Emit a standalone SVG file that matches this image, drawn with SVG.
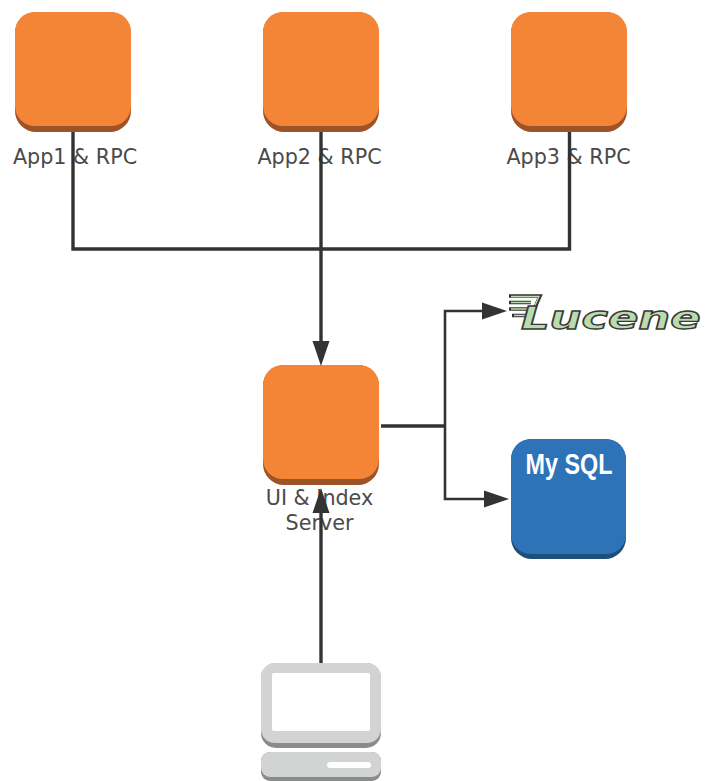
<svg xmlns="http://www.w3.org/2000/svg" width="706" height="781" viewBox="0 0 706 781">
<style>
.lbl{font-family:"DejaVu Sans",sans-serif;font-size:20.700px;fill:#4a4a4a;text-anchor:middle}
.base{fill:#9c5327}
.face{fill:#f58536}
.edge{fill:none;stroke:#333;stroke-width:3.4}
.edge2{fill:none;stroke:#333;stroke-width:2.6}
.head{fill:#333}
.pc{fill:#d2d3d3}
.pcs{fill:#8a8b8b}
</style>
<defs>
<g id="srv">
<rect class="base" x="0" y="0" width="116" height="120" rx="21"/>
<rect class="face" x="0" y="0" width="116" height="114" rx="20"/>
</g>
</defs>
<rect width="706" height="781" fill="#fff"/>
<g id="app1"><use href="#srv" x="15" y="12"/><text class="lbl" x="75" y="164">App1 &amp; RPC</text></g>
<g id="app2"><use href="#srv" x="263" y="12"/><text class="lbl" x="319.500" y="164">App2 &amp; RPC</text></g>
<g id="app3"><use href="#srv" x="511" y="12"/><text class="lbl" x="568.500" y="164">App3 &amp; RPC</text></g>
<g id="ui"><use href="#srv" x="263" y="365"/><text class="lbl" x="319.500" y="505">UI &amp; Index</text><text class="lbl" x="319.500" y="530">Server</text></g>
<g id="mysql">
<rect x="511" y="439" width="115" height="120" rx="21" fill="#1f4e79"/>
<rect x="511" y="439" width="115" height="115" rx="20" fill="#2e73b8"/>
<text x="569" y="474" text-anchor="middle" font-family="Liberation Sans,Arial,sans-serif" font-weight="700" font-size="29" fill="#fff" textLength="87" lengthAdjust="spacingAndGlyphs">My SQL</text>
</g>
<g id="lucene">
<path d="M509 296H540L533 312M509 302.500H531M509 309H527M512 315.500H530" fill="none" stroke="#333" stroke-width="3.600"/>
<path d="M511 296.500H539L532 312M511 302.500H531M511 309H527M514 315.500H530" fill="none" stroke="#b9dcae" stroke-width="1.300"/>
<text transform="translate(521 329) scale(1.4 1)" x="0" y="0" font-family="DejaVu Sans,sans-serif" font-weight="700" font-style="italic" font-size="32" fill="#b9dcae" stroke="#3a3a3a" stroke-width="1.300">Lucene</text>
</g>
<g id="pc">
<rect class="pcs" x="261" y="663" width="120" height="85" rx="15"/>
<rect class="pc" x="261" y="663" width="120" height="80" rx="14"/>
<rect x="272" y="673" width="98" height="58" rx="2" fill="#fff"/>
<rect class="pcs" x="261" y="752" width="120" height="29" rx="9"/>
<rect class="pc" x="261" y="752" width="120" height="25" rx="9"/>
<rect x="327" y="762" width="44" height="6" rx="3" fill="#fff"/>
</g>
<g id="connectors">
<path class="edge" d="M73 132V249H569.500V132"/>
<path class="edge" d="M321 132V345"/>
<path class="head" d="M321 366L312.500 341H329.500Z"/>
<path class="edge" d="M321 663V510"/>
<path class="head" d="M321 488L312.500 513H329.500Z"/>
<path class="edge" d="M381 426H444"/>
<path class="edge2" d="M484 311H445V499H486"/>
<path class="head" d="M507 311L482 302.500V319.500Z"/>
<path class="head" d="M509 499L484 490.500V507.500Z"/>
</g>
</svg>
